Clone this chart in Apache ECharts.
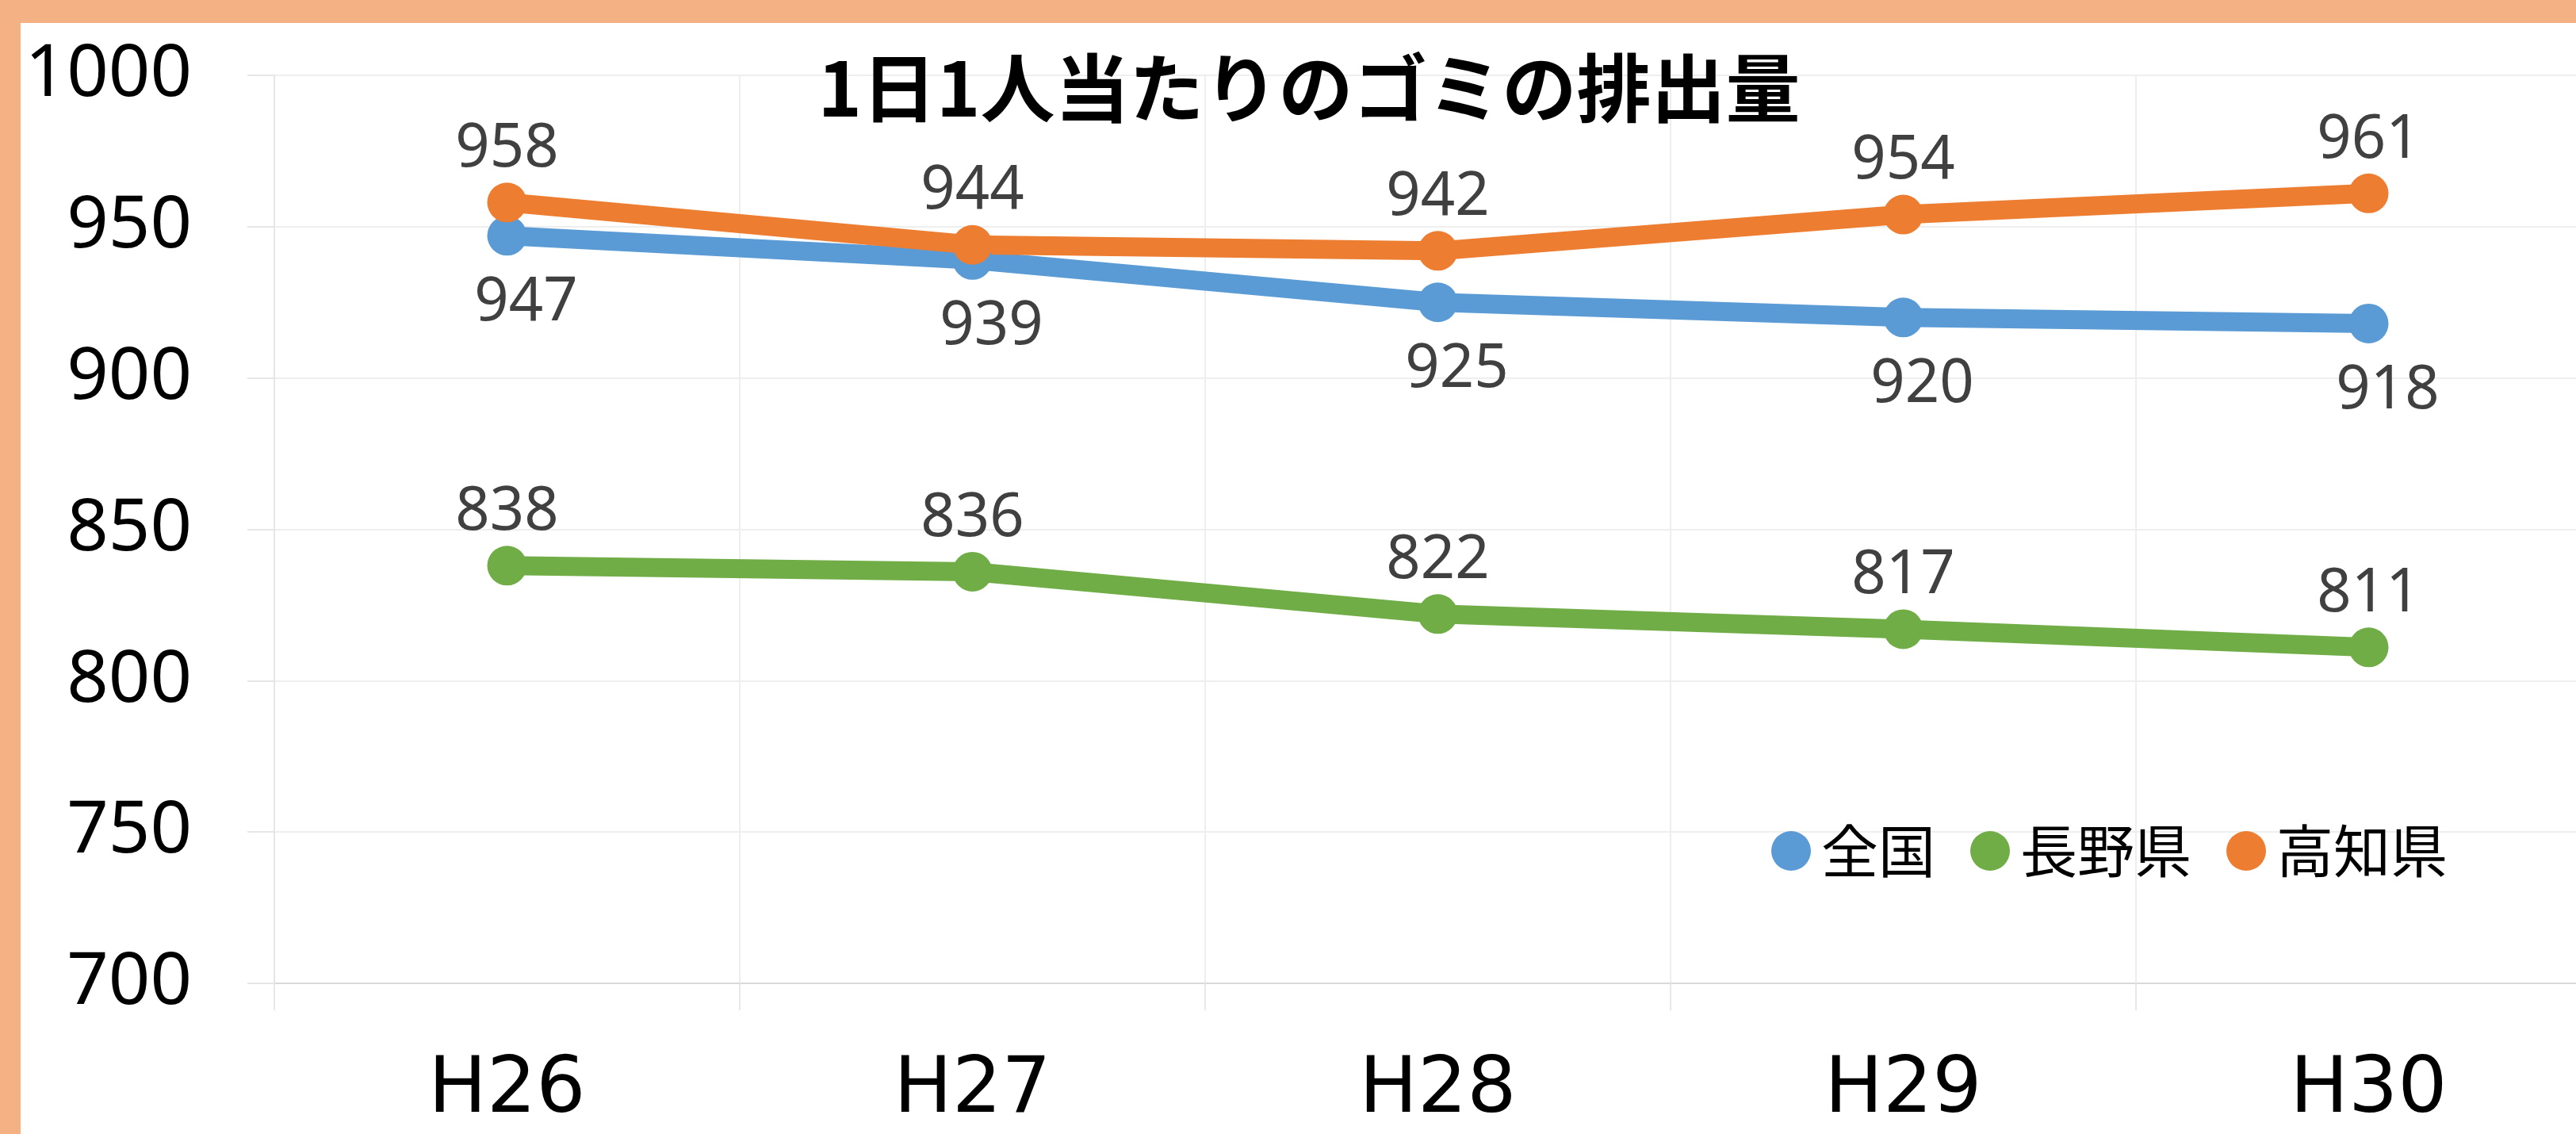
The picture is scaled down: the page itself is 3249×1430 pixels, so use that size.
<!DOCTYPE html>
<html>
<head>
<meta charset="utf-8">
<script src="https://cdn.jsdelivr.net/npm/echarts@6/dist/echarts.min.js"></script>
<style>
html,body{margin:0;padding:0;background:#ffffff;overflow:hidden;width:3249px;height:1430px;}
#chart{width:3320px;height:1430px;}
</style>
</head>
<body>
<div id="chart"></div>
<script>
const categories = ['H26', 'H27', 'H28', 'H29', 'H30'];
const seriesNames = ['全国', '長野県', '高知県'];
const zenkoku = [947, 939, 925, 920, 918];
const nagano = [838, 836, 822, 817, 811];
const kochi = [958, 944, 942, 954, 961];
const titleText = '1日1人当たりのゴミの排出量';

const chart = echarts.init(document.getElementById('chart'));
const labelFont = {fontFamily: 'Noto Sans', fontSize: 76, lineHeight: 76, color: '#404040'};

chart.setOption({
  animation: false,
  backgroundColor: '#ffffff',
  graphic: [
    {type: 'rect', left: 0, top: 0, shape: {width: 3320, height: 29}, style: {fill: '#F4B183'}, z: 100},
    {type: 'rect', left: 0, top: 0, shape: {width: 26, height: 1430}, style: {fill: '#F4B183'}, z: 100}
  ],
  title: {
    text: titleText,
    left: 1651,
    top: 64,
    padding: 0,
    textAlign: 'center',
    textStyle: {fontFamily: 'Noto Sans CJK JP', fontWeight: 'bold', fontSize: 94, lineHeight: 94, color: '#000000'}
  },
  legend: {
    data: seriesNames,
    left: 2234,
    top: 1037,
    icon: 'circle',
    itemWidth: 50,
    itemHeight: 50,
    itemGap: 44,
    padding: 0,
    textStyle: {fontFamily: 'Noto Sans CJK JP', fontSize: 72, lineHeight: 72, color: '#000000', padding: [0, 0, 0, 8]}
  },
  grid: {left: 346, top: 95, width: 2935, height: 1145, containLabel: false},
  xAxis: {
    type: 'category',
    data: categories,
    boundaryGap: true,
    axisLine: {show: true, lineStyle: {color: '#d9d9d9', width: 2}},
    axisTick: {show: true, length: 34, lineStyle: {color: '#e8e8e8', width: 2}},
    splitLine: {show: true, lineStyle: {color: '#eeeeee', width: 2}},
    axisLabel: {fontFamily: 'DejaVu Sans', fontSize: 98, color: '#000000', margin: 88}
  },
  yAxis: {
    type: 'value',
    min: 700,
    max: 1000,
    interval: 50,
    axisLine: {show: true, lineStyle: {color: '#e6e6e6', width: 2}},
    axisTick: {show: true, length: 34, lineStyle: {color: '#e6e6e6', width: 2}},
    splitLine: {show: true, lineStyle: {color: '#eeeeee', width: 2}},
    axisLabel: {fontFamily: 'Noto Sans', fontSize: 92, color: '#000000', margin: 104, formatter: function (v) { return String(v); }}
  },
  series: [
    {
      name: seriesNames[0], type: 'line', data: zenkoku,
      symbol: 'circle', symbolSize: 50,
      lineStyle: {width: 24, color: '#5B9BD5'},
      itemStyle: {color: '#5B9BD5'},
      label: Object.assign({show: true, position: 'bottom', distance: 22, offset: [24, 0]}, labelFont)
    },
    {
      name: seriesNames[1], type: 'line', data: nagano,
      symbol: 'circle', symbolSize: 50,
      lineStyle: {width: 24, color: '#70AD47'},
      itemStyle: {color: '#70AD47'},
      label: Object.assign({show: true, position: 'top', distance: 4}, labelFont)
    },
    {
      name: seriesNames[2], type: 'line', data: kochi,
      symbol: 'circle', symbolSize: 50,
      lineStyle: {width: 24, color: '#ED7D31'},
      itemStyle: {color: '#ED7D31'},
      label: Object.assign({show: true, position: 'top', distance: 4}, labelFont)
    }
  ]
});
</script>
</body>
</html>
